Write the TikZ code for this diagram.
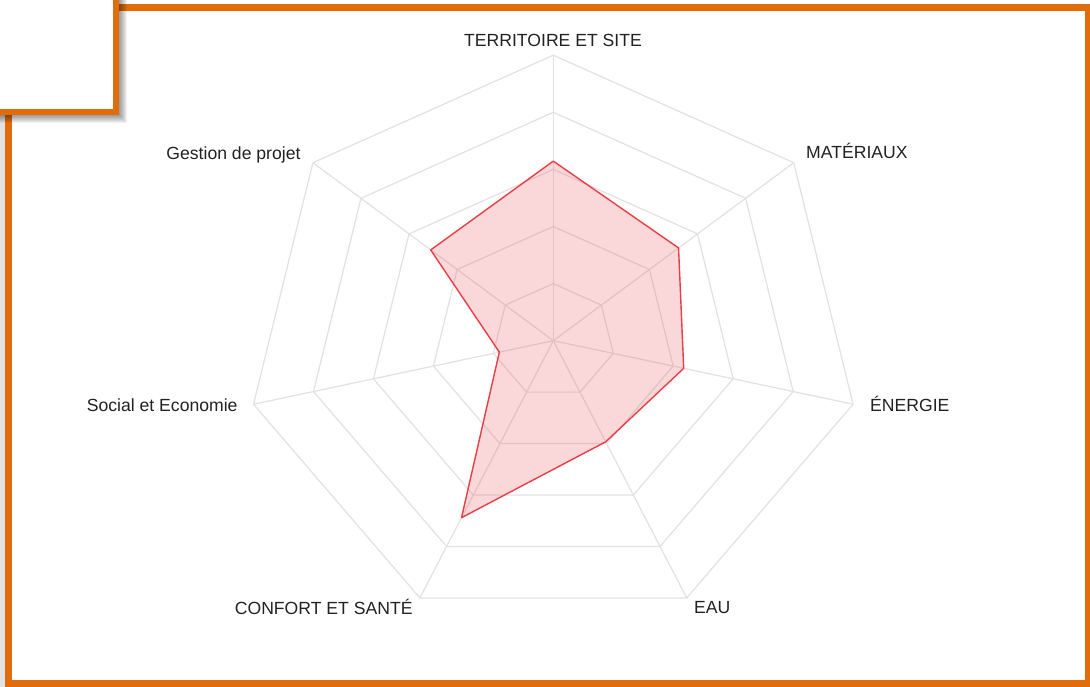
\documentclass[tikz,border=0pt]{standalone}
\usepackage{fontspec}
\setmainfont{Liberation Sans}
\definecolor{frameorange}{RGB}{226,108,10}
\definecolor{gridgray}{RGB}{226,226,226}
\definecolor{datared}{RGB}{232,62,70}
\definecolor{textdark}{RGB}{34,34,34}
\begin{document}
\begin{tikzpicture}[x=1pt,y=-1pt,
  gridline/.style={draw=gridgray, line width=1.2pt, line join=round},
  datapoly/.style={draw=datared, line width=1.4pt, fill=datared, fill opacity=0.2, line join=round},
  lbl/.style={inner sep=0pt, text=textdark, font=\fontsize{17.6}{20}\selectfont},
  frame/.style={draw=frameorange, line width=7pt},
  boxframe/.style={draw=frameorange, fill=white, line width=6pt}]
\useasboundingbox (0,0) rectangle (1090,687);
\fill[white] (0,0) rectangle (1090,687);
\fill[gray!22] (0,0) rectangle (5,687);
% main frame
\draw[frame] (8.5,7.5) rectangle (1088.5,683);
% centre
\coordinate (c) at (553.3,340.7);
% grid coordinates
\foreach \lv in {1,...,5}{
  \foreach \k in {0,...,6}{
    \coordinate (g\lv-\k) at ({553.3+307.5*\lv/5*sin(\k*360/7)},{340.7-285.5*\lv/5*cos(\k*360/7)});
  }
}
\foreach \lv in {1,...,5}{
  \draw[gridline] (g\lv-0) -- (g\lv-1) -- (g\lv-2) -- (g\lv-3) -- (g\lv-4) -- (g\lv-5) -- (g\lv-6) -- cycle;
}
\foreach \k in {0,...,6}{
  \draw[gridline] (c) -- (g5-\k);
}
% data
\foreach \k/\v in {0/0.629,1/0.521,2/0.435,3/0.393,4/0.688,5/0.180,6/0.510}{
  \coordinate (d\k) at ({553.3+307.5*\v*sin(\k*360/7)},{340.7-285.5*\v*cos(\k*360/7)});
}
\draw[datapoly] (d0) -- (d1) -- (d2) -- (d3) -- (d4) -- (d5) -- (d6) -- cycle;
% labels
\node[lbl, anchor=base] (lT) at (553,47) {TERRITOIRE ET SITE};
\node[lbl, anchor=base west] (lM) at (806,159) {MATÉRIAUX};
\node[lbl, anchor=base west] (lE) at (870,411.6) {ÉNERGIE};
\node[lbl, anchor=base west] (lW) at (694,613.3) {EAU};
\node[lbl, anchor=base east] (lC) at (412.7,614) {CONFORT ET SANTÉ};
\node[lbl, anchor=base east] (lS) at (237.7,411.7) {Social et Economie};
\node[lbl, anchor=base east] (lG) at (300.7,159.3) {Gestion de projet};
% shadow of the small box
\foreach \s in {0,...,7}{
  \fill[black, opacity=0.055] (-20,-20) rectangle ({120+\s},{116+\s});
}
% small box
\draw[boxframe] (-20,-20) rectangle (116,112);
\end{tikzpicture}
\end{document}
